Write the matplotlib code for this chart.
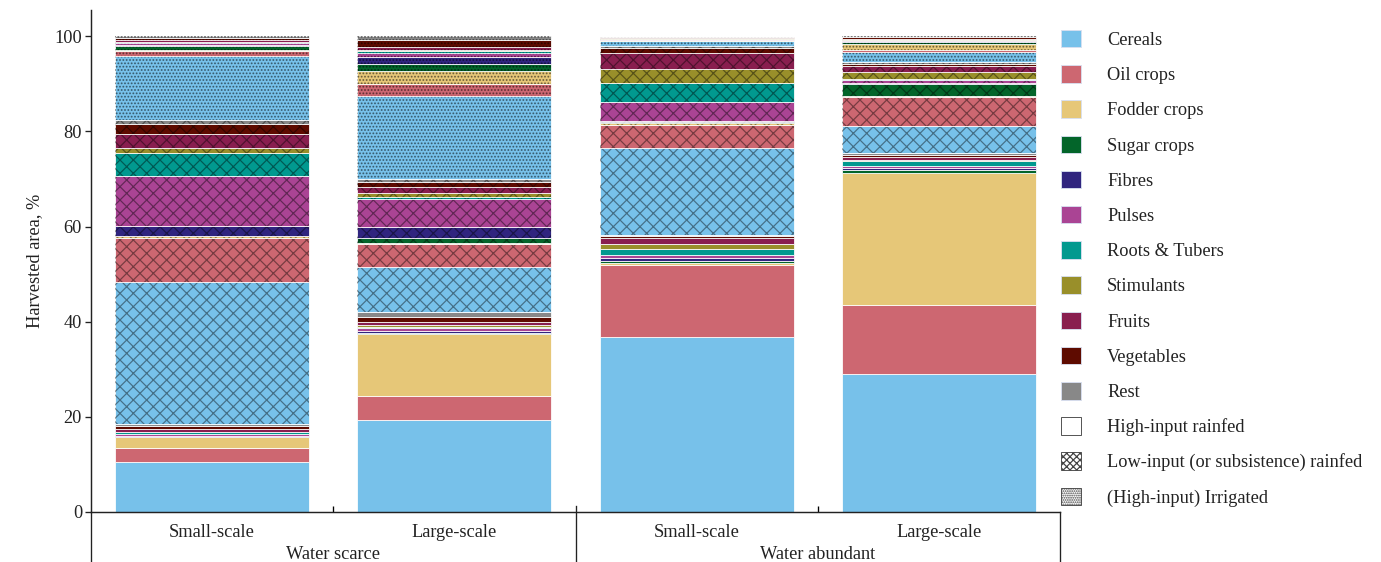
import numpy as np
import matplotlib.pyplot as plt
from matplotlib.patches import Patch

plt.rcParams['font.family'] = ['Liberation Serif', 'DejaVu Serif']
plt.rcParams['hatch.linewidth'] = 1.1

crops = ['Cereals', 'Oil crops', 'Fodder crops', 'Sugar crops', 'Fibres', 'Pulses',
         'Roots & Tubers', 'Stimulants', 'Fruits', 'Vegetables', 'Rest']
crop_colors = ['#77c1ea', '#cd6771', '#e6c778', '#03652a', '#30257f', '#aa4494',
               '#01998f', '#998f2a', '#891e4f', '#5e0b00', '#888888']
farm_size = ['Small-scale', 'Large-scale', 'Small-scale', 'Large-scale']
water = ['Water scarce', 'Water abundant']
systems = ['High-input rainfed', 'Low-input (or subsistence) rainfed', '(High-input) Irrigated']

# harvested area share (%), one row per bar, crops in the order above
high_input_rainfed = [
    [10.6, 2.9, 2.2, 0.1, 0.1, 0.5, 0.4, 0.1, 0.5, 0.7, 0.3],
    [19.3, 5.0, 13.2, 0.1, 0.4, 0.6, 0.3, 0.3, 0.8, 1.0, 1.0],
    [36.7, 15.3, 0.4, 0.4, 0.5, 0.8, 1.2, 1.0, 1.3, 0.4, 0.3],
    [29.1, 14.5, 27.7, 0.6, 0.3, 0.5, 1.0, 0.3, 0.6, 0.4, 0.4],
]
low_input_rainfed = [
    [29.9, 9.3, 0.3, 0.1, 2.1, 10.6, 4.8, 0.9, 3.0, 2.1, 0.8],
    [9.5, 4.8, 0.3, 0.9, 2.3, 5.9, 0.5, 0.8, 1.2, 1.1, 0.7],
    [18.2, 4.8, 0.4, 0.2, 0.3, 3.9, 4.0, 3.1, 3.2, 1.1, 0.5],
    [5.8, 6.1, 0.1, 2.5, 0.3, 0.5, 0.4, 1.4, 1.3, 0.3, 0.4],
]
irrigated = [
    [13.6, 1.0, 0.2, 0.9, 0.1, 0.4, 0.2, 0.1, 0.4, 0.5, 0.3],
    [17.5, 2.4, 2.7, 1.5, 1.6, 0.8, 0.3, 0.3, 0.6, 1.6, 0.7],
    [0.9, 0.1, 0.1, 0.1, 0.1, 0.1, 0.1, 0.1, 0.1, 0.1, 0.1],
    [2.2, 0.4, 1.3, 0.3, 0.2, 0.3, 0.1, 0.1, 0.1, 0.3, 0.2],
]
hatches = [None, 'xx', '....']
hatch_alpha = [0, 0.42, 0.5]

fig = plt.figure(figsize=(1381 / 80, 562 / 80), dpi=80)
ax = fig.add_axes([91 / 1381, 50 / 562, 969 / 1381, 502 / 562])

x = np.arange(len(farm_size))
bottom = np.zeros(len(farm_size))
for shares, hatch, alpha in zip([high_input_rainfed, low_input_rainfed, irrigated],
                                hatches, hatch_alpha):
    shares = np.array(shares)
    for j, color in enumerate(crop_colors):
        h = shares[:, j]
        ax.bar(x, h, 0.8, bottom=bottom, color=color, edgecolor='white', linewidth=0.7)
        if hatch:
            ax.bar(x, h, 0.8, bottom=bottom, color='none', edgecolor=(0, 0, 0, alpha),
                   hatch=hatch, linewidth=0)
        bottom += h

ax.set_xlim(-0.5, 3.5)
ax.set_ylim(0, 105.5)
ax.set_yticks(range(0, 101, 20))
ax.tick_params(axis='y', direction='out', length=5, width=1.2, labelsize=16.5,
               colors='#222222', pad=3)
ax.set_xticks([0.5, 2.5])
ax.tick_params(axis='x', direction='in', length=5, width=1.2, labelbottom=False)
for side in ['top', 'right']:
    ax.spines[side].set_visible(False)
for side in ['left', 'bottom']:
    ax.spines[side].set_linewidth(1.3)
    ax.spines[side].set_color('#222222')
ax.set_ylabel('Harvested area, %', fontsize=16.5, color='#222222', labelpad=10)

# group separators below the axis
line_kw = dict(transform=ax.transAxes, clip_on=False, color='#222222', lw=1.2)
ax.plot([0, 0], [0, -0.1], **line_kw)
ax.plot([0.5, 0.5], [0.011, -0.1], **line_kw)
ax.plot([1, 1], [0, -0.1], **line_kw)

trans = ax.get_xaxis_transform()
for i, name in enumerate(farm_size):
    ax.text(i, -0.04, name, transform=trans, ha='center', va='center',
            fontsize=16.5, color='#222222')
for i, name in enumerate(water):
    ax.text(0.5 + 2 * i, -0.085, name, transform=trans, ha='center', va='center',
            fontsize=16.5, color='#222222')

handles = [Patch(facecolor=c, edgecolor='#d8dff0', linewidth=0.8) for c in crop_colors]
handles += [Patch(facecolor='white', edgecolor='#444444', linewidth=0.8, hatch=h)
            for h in [None, 'xxxx', '......']]
fig.legend(handles, crops + systems, loc='upper left',
           bbox_to_anchor=(1061 / 1381, 1 - 30 / 562), frameon=False,
           fontsize=16.5, handlelength=1.09, handleheight=1.09, labelspacing=0.885,
           handletextpad=1.42, borderpad=0, borderaxespad=0, labelcolor='#222222')

fig.savefig('out.png', dpi=80)
